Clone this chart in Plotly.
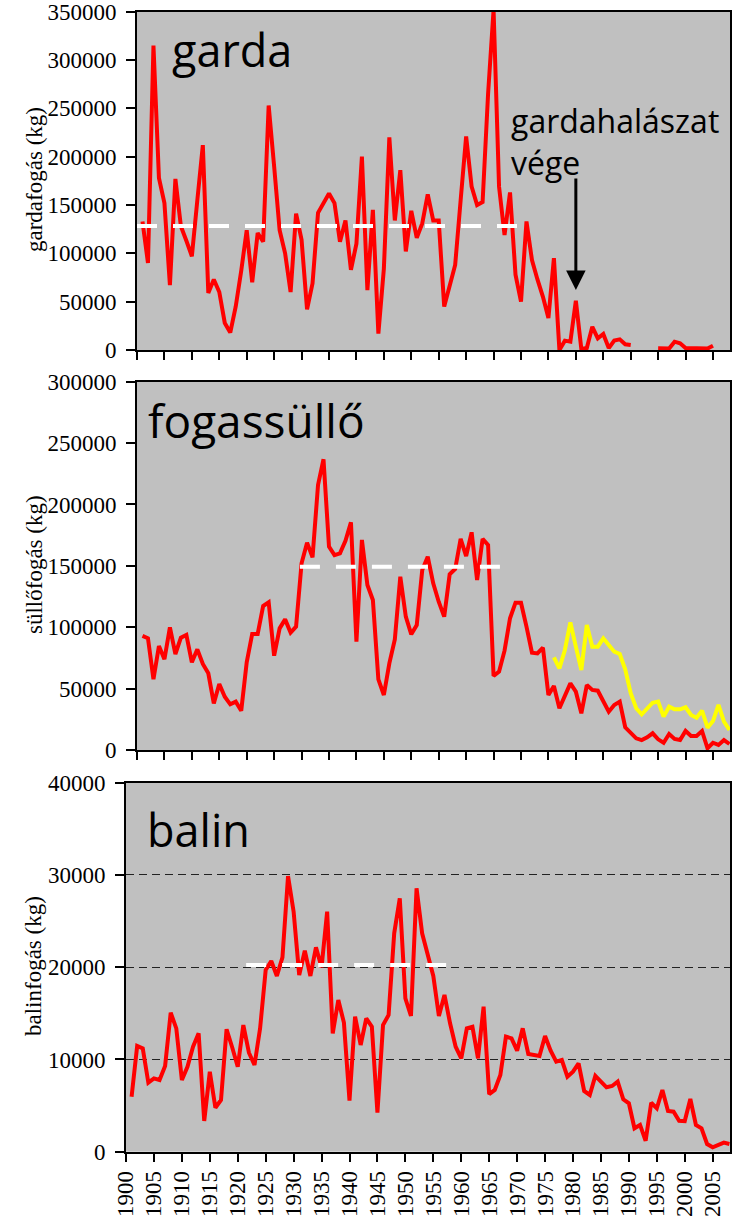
import plotly.graph_objects as go

# ---------------- data ----------------
garda_years = list(range(1901, 2006))
garda_kg = [133000, 90000, 315000, 178000, 152000, 67000, 177000, 128000, 113000, 97000,
            155000, 212000, 59000, 73000, 60000, 28000, 18000, 45000, 82000, 124000,
            70000, 121000, 112000, 253000, 190000, 124000, 100000, 60000, 141000, 114000,
            42000, 69000, 142000, 152000, 162000, 152000, 112000, 134000, 83000, 110000,
            200000, 62000, 145000, 17000, 84000, 220000, 134000, 186000, 102000, 144000,
            116000, 131000, 161000, 134000, 134000, 45000, 66000, 88000, 155000, 221000,
            169000, 150000, 153000, 265000, 352000, 169000, 119000, 163000, 78000, 50000,
            133000, 93000, 73000, 55000, 33000, 95000, 0, 9700, 8600, 51000,
            1000, 2000, 24000, 12000, 16600, 2000, 9700, 11000, 5900, 5200,
            None, None, None, None, 1700, 1700, 1500, 8600, 6900, 2000,
            2000, 1500, 2200, 1500, 4500]
garda_mean_years = [1900, 1970]
garda_mean_kg = [128300, 128300]

sullo_years = list(range(1901, 2009))
sullo_kg = [92900, 91000, 57600, 84700, 73900, 99900, 78200, 91500, 93700, 71400,
            82000, 70100, 62500, 38000, 53800, 43400, 37200, 39400, 32000, 71400,
            94500, 94500, 117300, 120300, 76800, 99100, 106400, 95600, 100500, 152100,
            168900, 157000, 215900, 236800, 165600, 158800, 160200, 170300, 185500, 88200,
            171100, 134400, 122200, 57600, 44800, 70600, 90100, 141200, 108600, 94200,
            101800, 146600, 157500, 135800, 120800, 108600, 143100, 147400, 171900, 158000,
            177300, 138500, 171900, 167000, 60300, 63800, 80900, 107300, 120000, 120000,
            100500, 79300, 78700, 83400, 44800, 52100, 34000, 44200, 54300, 47500,
            29900, 52900, 48900, 48300, 39900, 31200, 36700, 39400, 18500, 13600,
            9500, 8100, 10300, 13600, 8700, 5900, 13000, 9000, 8100, 15500,
            11400, 11400, 15500, 1400, 5900, 4100, 8100, 4900]
sullo2_years = list(range(1976, 2009))
sullo2_kg = [75500, 66500, 81500, 104000, 84200, 65200, 101800, 84200, 84200, 91000,
             85500, 80100, 78200, 65700, 46200, 34000, 29100, 34000, 38500, 39400,
             27200, 35300, 33100, 33100, 34800, 28500, 26300, 32000, 18200, 23600,
             36700, 23100, 16300]
sullo_mean_years = [1929.7, 1967]
sullo_mean_kg = [149300, 149300]

balin_years = list(range(1901, 2009))
balin_kg = [5960, 11460, 11200, 7480, 7950, 7770, 9290, 15070, 13370, 7770,
            9210, 11380, 12830, 3330, 8670, 4770, 5600, 13270, 11320, 9210,
            13730, 10730, 9400, 13370, 19700, 20670, 19050, 21070, 29880, 26020,
            19150, 21790, 19050, 22150, 19990, 26020, 12830, 16440, 13990, 5530,
            14640, 11570, 14460, 13550, 4230, 13730, 14820, 23670, 27470, 16630,
            14710, 28550, 23670, 21320, 19050, 14710, 16990, 13920, 11380, 10120,
            13370, 13550, 10120, 15720, 6250, 6690, 8310, 12470, 12290, 10950,
            13370, 10590, 10480, 10370, 12540, 10950, 9760, 9940, 8130, 8670,
            9580, 6580, 6150, 8210, 7590, 6980, 7120, 7590, 5680, 5250,
            2540, 2900, 1190, 5310, 4700, 6690, 4410, 4340, 3360, 3320,
            5710, 2900, 2540, 830, 480, 730, 980, 830]
balin_mean_years = [1921.5, 1958]
balin_mean_kg = [20240, 20240]

x_ticks = list(range(1900, 2006, 5))
x_range = [1900, 2008.1]
end_year = 1980
end_kg = 62000

# ---------------- figure ----------------
W, H = 740, 1218
def px(x):
    return x / W
def py(y):
    return 1 - y / H

RED = "#FF0000"
YEL = "#FFFF00"
SERIF = "Liberation Serif"
SANS = "Open Sans"

fig = go.Figure()
line_red = dict(color=RED, width=4)
dash_white = dict(color="white", width=4, dash="20px,16px")
fig.add_trace(go.Scatter(x=garda_years, y=garda_kg, mode="lines", line=line_red,
                         connectgaps=False, xaxis="x", yaxis="y"))
fig.add_trace(go.Scatter(x=garda_mean_years, y=garda_mean_kg, mode="lines",
                         line=dash_white, xaxis="x", yaxis="y"))
fig.add_trace(go.Scatter(x=sullo_years, y=sullo_kg, mode="lines", line=line_red, xaxis="x2", yaxis="y2"))
fig.add_trace(go.Scatter(x=sullo2_years, y=sullo2_kg, mode="lines",
                         line=dict(color=YEL, width=4), xaxis="x2", yaxis="y2"))
fig.add_trace(go.Scatter(x=sullo_mean_years, y=sullo_mean_kg, mode="lines",
                         line=dash_white, xaxis="x2", yaxis="y2"))
fig.add_trace(go.Scatter(x=balin_years, y=balin_kg, mode="lines", line=line_red, xaxis="x3", yaxis="y3"))
fig.add_trace(go.Scatter(x=balin_mean_years, y=balin_mean_kg, mode="lines",
                         line=dash_white, xaxis="x3", yaxis="y3"))

def xax(domain, anchor, labels):
    d = dict(domain=domain, anchor=anchor, range=x_range, tickmode="array", tickvals=x_ticks,
             ticktext=[str(t) for t in x_ticks], ticks="outside", ticklen=8, tickwidth=1.5,
             tickcolor="black", showticklabels=labels, showline=True, linecolor="black",
             linewidth=2, mirror=True, showgrid=False, zeroline=False, automargin=False,
             ticklabeloverflow="allow",
             tickfont=dict(family=SERIF, size=23, color="black"))
    if labels:
        d["tickangle"] = -90
    return d

def yax(domain, anchor, rng, dtick, grid=False):
    d = dict(domain=domain, anchor=anchor, range=rng, dtick=dtick, tick0=0, tickformat="d",
             ticks="outside", ticklen=9, tickwidth=1.5, tickcolor="black",
             showline=True, linecolor="black", linewidth=2, mirror=True, zeroline=False,
             showgrid=grid, automargin=False, ticklabeloverflow="allow",
             tickfont=dict(family=SERIF, size=23, color="black"),
             ticklabelstandoff=5)
    if grid:
        d.update(gridcolor="#222222", gridwidth=1, griddash="8px,5px")
    return d

fig.update_layout(
    width=W, height=H, margin=dict(l=0, r=0, t=0, b=0, autoexpand=False),
    paper_bgcolor="white", plot_bgcolor="#C0C0C0", showlegend=False,
    xaxis=xax([px(137), px(730)], "y", False),
    yaxis=yax([py(350), py(11.7)], "x", [0, 350000], 50000),
    xaxis2=xax([px(137), px(730)], "y2", False),
    yaxis2=yax([py(750), py(381.7)], "x2", [0, 300000], 50000),
    xaxis3=xax([px(126), px(730)], "y3", True),
    yaxis3=yax([py(1151.7), py(782.7)], "x3", [0, 40000], 10000, grid=True),
)

ann = []
ann.append(dict(text="garda", x=px(170), y=py(50), xref="paper", yref="paper",
                xanchor="left", yanchor="middle", showarrow=False,
                font=dict(family=SANS, size=45, color="black")))
ann.append(dict(text="fogassüllő", x=px(146), y=py(420), xref="paper", yref="paper",
                xanchor="left", yanchor="middle", showarrow=False,
                font=dict(family=SANS, size=46, color="black")))
ann.append(dict(text="balin", x=px(145), y=py(830), xref="paper", yref="paper",
                xanchor="left", yanchor="middle", showarrow=False,
                font=dict(family=SANS, size=45, color="black")))
ann.append(dict(text="gardahalászat<br>vége", x=px(509), y=py(142), xref="paper", yref="paper",
                xanchor="left", yanchor="middle", align="left", showarrow=False,
                font=dict(family=SANS, size=32, color="black")))
ann.append(dict(text="", x=end_year, y=end_kg, xref="x", yref="y", showarrow=True,
                ax=0, ay=-113, arrowhead=2, arrowsize=1.3, arrowwidth=3, arrowcolor="black"))
for txt, yc, xc in [("gardafogás (kg)", 180, 34), ("süllőfogás (kg)", 565, 34), ("balinfogás (kg)", 966, 33)]:
    ann.append(dict(text=txt, x=px(xc), y=py(yc), xref="paper", yref="paper", textangle=-90,
                    xanchor="center", yanchor="middle", showarrow=False,
                    font=dict(family=SERIF, size=23, color="black")))
fig.update_layout(annotations=ann)

fig.write_html("out.html", config={"displayModeBar": False},
               post_script="document.body.style.margin='0px';")
